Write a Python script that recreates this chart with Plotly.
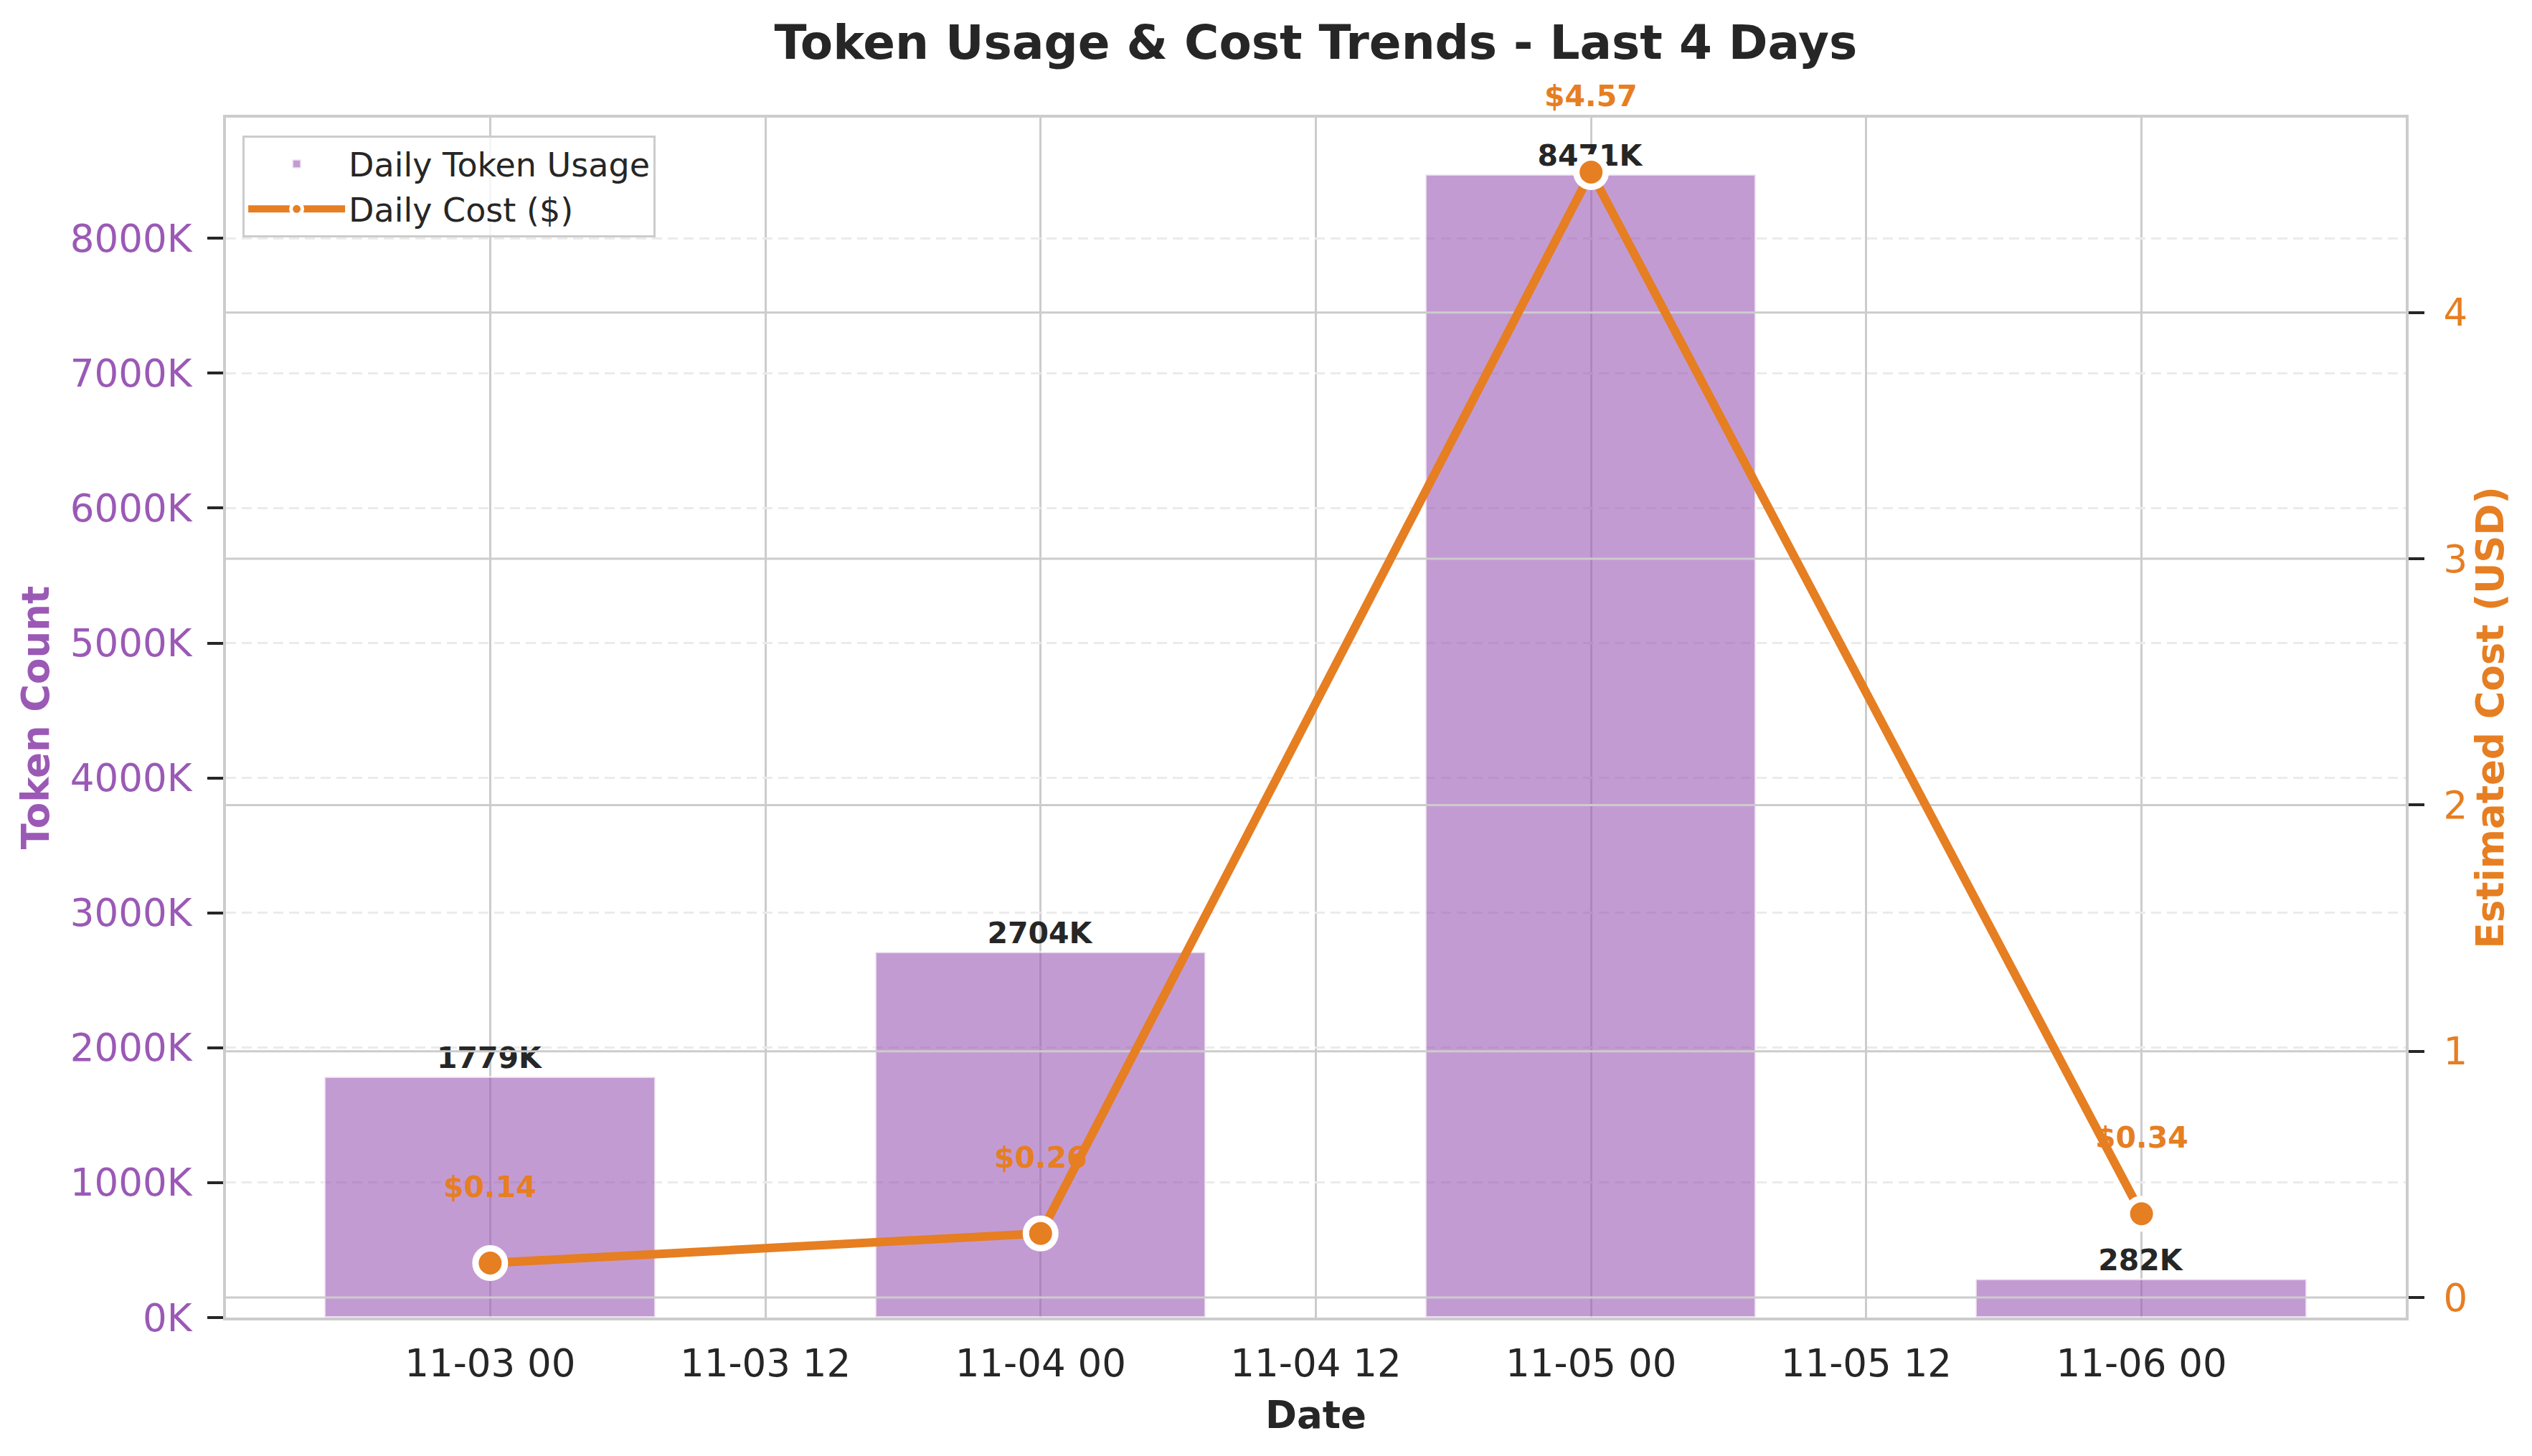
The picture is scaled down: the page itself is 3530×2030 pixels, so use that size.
import plotly.graph_objects as go
import pandas as pd

# ---------------- data ----------------
dates = ["2025-11-03", "2025-11-04", "2025-11-05", "2025-11-06"]
tokens = [1779000, 2704000, 8471000, 282000]
costs = [0.14, 0.26, 4.57, 0.34]
token_ticks = [0, 1000000, 2000000, 3000000, 4000000, 5000000, 6000000, 7000000, 8000000]
cost_ticks = [0, 1, 2, 3, 4]

PURPLE = "#9b59b6"
ORANGE = "#e67e22"
DARK = "#262626"
GRID = "#cccccc"
FONT = "DejaVu Sans"

# page body has an 8px margin, so the figure is drawn slightly smaller
W, H = 3514, 2014
ML, MR, MT, MB = 307, 168, 156, 185

dt = pd.to_datetime(dates)
bar_w = pd.Timedelta(days=0.6)
span = (dt.max() + bar_w / 2) - (dt.min() - bar_w / 2)
x_lo = dt.min() - bar_w / 2 - 0.05 * span
x_hi = dt.max() + bar_w / 2 + 0.05 * span

y1_max = max(tokens) * 1.05
c_span = max(costs) - min(costs)
y2_lo = min(costs) - 0.05 * c_span
y2_hi = max(costs) + 0.05 * c_span

fig = go.Figure()

fig.add_trace(go.Bar(
    x=dt, y=tokens, width=bar_w.total_seconds() * 1000,
    name="Daily Token Usage",
    marker=dict(color="rgba(155,89,182,0.6)", line=dict(color="rgba(255,255,255,0.6)", width=3)),
    text=[f"{v/1000:.0f}K" for v in tokens],
    textposition="outside",
    textfont=dict(family=FONT, size=41, color=DARK, weight="bold"),
    cliponaxis=False,
    hoverinfo="skip",
))

# secondary-axis grid lines (drawn above bars, below the cost line)
gx, gy = [], []
for v in cost_ticks:
    gx += [x_lo, x_hi, None]
    gy += [v, v, None]
fig.add_trace(go.Scatter(
    x=gx, y=gy, yaxis="y2", mode="lines",
    line=dict(color=GRID, width=3), showlegend=False, hoverinfo="skip",
))

fig.add_trace(go.Scatter(
    x=dt, y=costs, yaxis="y2", mode="lines+markers",
    name="Daily Cost ($)",
    line=dict(color=ORANGE, width=12),
    marker=dict(color=ORANGE, size=41, line=dict(color="white", width=9)),
    hoverinfo="skip",
))

for d, c in zip(dt, costs):
    fig.add_annotation(
        x=d, y=c, xref="x", yref="y2", text=f"${c:.2f}", showarrow=False,
        yanchor="bottom", yshift=80,
        font=dict(family=FONT, size=41, color=ORANGE, weight="bold"),
    )

# right-hand axis title (placed close to the tick labels)
fig.add_annotation(
    text="Estimated Cost (USD)", xref="paper", yref="paper", x=1, y=0.5,
    xanchor="center", yanchor="middle", xshift=117, textangle=-90, showarrow=False,
    font=dict(family=FONT, size=53, color=ORANGE, weight="bold"),
)

fig.update_layout(
    width=W, height=H, autosize=False,
    margin=dict(l=ML, r=MR, t=MT, b=MB),
    paper_bgcolor="white", plot_bgcolor="white",
    font=dict(family=FONT, color=DARK),
    bargap=0,
    title=dict(
        text="Token Usage & Cost Trends - Last 4 Days",
        font=dict(family=FONT, size=66, color=DARK, weight="bold"),
        x=0.5, xref="paper", xanchor="center",
        y=1 - 50.5 / H, yref="container", yanchor="middle",
    ),
    legend=dict(
        x=0.0076, y=0.985, xanchor="left", yanchor="top",
        bgcolor="rgba(255,255,255,0.8)", bordercolor=GRID, borderwidth=3,
        font=dict(family=FONT, size=46, color=DARK),
        itemwidth=135, tracegroupgap=0,
    ),
    xaxis=dict(
        type="date", range=[x_lo, x_hi],
        tick0="2025-11-03 00:00", dtick=12 * 3600 * 1000, tickformat="%m-%d %H",
        showgrid=True, gridcolor=GRID, gridwidth=3,
        showline=True, linecolor=GRID, linewidth=4, mirror=True,
        ticks="", tickfont=dict(family=FONT, size=53, color=DARK),
        ticklabelstandoff=14,
        zeroline=False,
        title=dict(text="Date", font=dict(family=FONT, size=53, color=DARK, weight="bold"), standoff=25),
    ),
    yaxis=dict(
        range=[0, y1_max],
        tickvals=token_ticks, ticktext=[f"{v/1000:.0f}K" for v in token_ticks],
        showgrid=True, gridcolor="#ebebeb", gridwidth=3, griddash="14px,8px",
        showline=True, linecolor=GRID, linewidth=4,
        ticks="outside", ticklen=22, tickwidth=4, tickcolor=DARK,
        tickfont=dict(family=FONT, size=53, color=PURPLE),
        ticklabelstandoff=11,
        zeroline=False,
        title=dict(text="Token Count", font=dict(family=FONT, size=53, color=PURPLE, weight="bold"), standoff=13),
    ),
    yaxis2=dict(
        overlaying="y", side="right", range=[y2_lo, y2_hi],
        tickvals=cost_ticks, ticktext=[str(v) for v in cost_ticks],
        showgrid=False, zeroline=False,
        showline=True, linecolor=GRID, linewidth=4,
        ticks="outside", ticklen=22, tickwidth=4, tickcolor=DARK,
        tickfont=dict(family=FONT, size=53, color=ORANGE),
        ticklabelstandoff=16,
    ),
)

fig.write_html("out.html")
